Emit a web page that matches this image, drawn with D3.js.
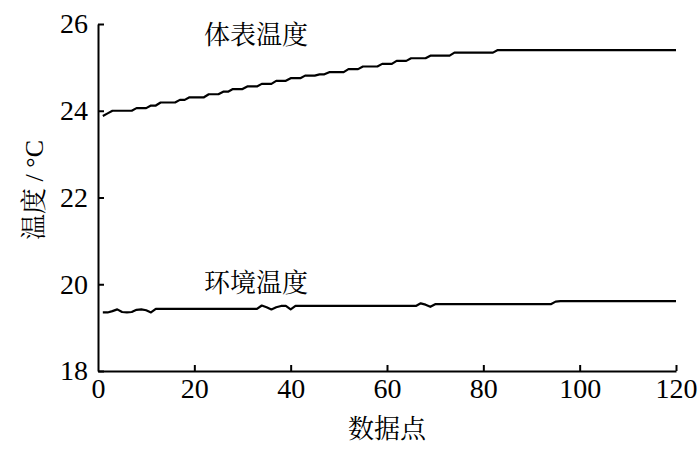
<!DOCTYPE html>
<html>
<head>
<meta charset="utf-8">
<script src="https://cdn.jsdelivr.net/npm/d3@7"></script>
</head>
<body style="margin:0">
<script>
// readings, one per data point (x = 1..120)
const bodyTemp = [
  23.88, 23.94, 24.00, 24.00, 24.00, 24.00, 24.00, 24.06, 24.06, 24.06,
  24.12, 24.12, 24.19, 24.19, 24.19, 24.19, 24.25, 24.25, 24.31, 24.31,
  24.31, 24.31, 24.38, 24.38, 24.38, 24.44, 24.44, 24.50, 24.50, 24.50,
  24.56, 24.56, 24.56, 24.62, 24.62, 24.62, 24.69, 24.69, 24.69, 24.75,
  24.75, 24.75, 24.81, 24.81, 24.81, 24.84, 24.84, 24.89, 24.89, 24.89,
  24.89, 24.96, 24.96, 24.96, 25.02, 25.02, 25.02, 25.02, 25.08, 25.08,
  25.08, 25.15, 25.15, 25.15, 25.21, 25.21, 25.21, 25.21, 25.27, 25.27,
  25.27, 25.27, 25.27, 25.34, 25.34, 25.34, 25.34, 25.34, 25.34, 25.34,
  25.34, 25.34, 25.40, 25.40, 25.40, 25.40, 25.40, 25.40, 25.40, 25.40,
  25.40, 25.40, 25.40, 25.40, 25.40, 25.40, 25.40, 25.40, 25.40, 25.40,
  25.40, 25.40, 25.40, 25.40, 25.40, 25.40, 25.40, 25.40, 25.40, 25.40,
  25.40, 25.40, 25.40, 25.40, 25.40, 25.40, 25.40, 25.40, 25.40, 25.40
];

const ambientTemp = [
  19.35, 19.35, 19.38, 19.42, 19.36, 19.35, 19.36, 19.41, 19.42, 19.40,
  19.35, 19.43, 19.43, 19.43, 19.43, 19.43, 19.43, 19.43, 19.43, 19.43,
  19.43, 19.43, 19.43, 19.43, 19.43, 19.43, 19.43, 19.43, 19.43, 19.43,
  19.43, 19.43, 19.43, 19.51, 19.47, 19.42, 19.47, 19.50, 19.50, 19.42,
  19.50, 19.50, 19.50, 19.50, 19.50, 19.50, 19.50, 19.50, 19.50, 19.50,
  19.50, 19.50, 19.50, 19.50, 19.50, 19.50, 19.50, 19.50, 19.50, 19.50,
  19.50, 19.50, 19.50, 19.50, 19.50, 19.50, 19.56, 19.53, 19.48, 19.54,
  19.54, 19.54, 19.54, 19.54, 19.54, 19.54, 19.54, 19.54, 19.54, 19.54,
  19.54, 19.54, 19.54, 19.54, 19.54, 19.54, 19.54, 19.54, 19.54, 19.54,
  19.54, 19.54, 19.54, 19.54, 19.60, 19.61, 19.61, 19.61, 19.61, 19.61,
  19.61, 19.61, 19.61, 19.61, 19.61, 19.61, 19.61, 19.61, 19.61, 19.61,
  19.61, 19.61, 19.61, 19.61, 19.61, 19.61, 19.61, 19.61, 19.61, 19.61
];

const xTicks = [0, 20, 40, 60, 80, 100, 120];
const yTicks = [18, 20, 22, 24, 26];

const seriesLabels = [
  { name: "体表温度", x: 22, y: 25.55 },
  { name: "环境温度", x: 22, y: 19.83 }
];

const width = 700;
const height = 450;
const marginTop = 24;
const marginRight = 24;
const marginBottom = 79;
const marginLeft = 98;

const fontStack = '"Liberation Serif", "Times New Roman", "Noto Serif CJK SC"';

const x = d3.scaleLinear().domain([0, 120]).range([marginLeft, width - marginRight]);
const y = d3.scaleLinear().domain([18, 26]).range([height - marginBottom, marginTop]);

const svg = d3.select("body").append("svg")
  .attr("width", width)
  .attr("height", height)
  .attr("font-family", fontStack)
  .style("font-family", fontStack)
  .style("display", "block");

// axes: ticks point inward, no frame on top / right
const gx = svg.append("g")
  .attr("transform", `translate(0,${height - marginBottom})`)
  .call(d3.axisBottom(x).tickValues(xTicks).tickSizeInner(-6).tickSizeOuter(0).tickPadding(7));

const gy = svg.append("g")
  .attr("transform", `translate(${marginLeft},0)`)
  .call(d3.axisLeft(y).tickValues(yTicks).tickSizeInner(-6).tickSizeOuter(0).tickPadding(10));

[gx, gy].forEach(g => {
  g.attr("font-family", fontStack).attr("font-size", 28);
  g.select(".domain").attr("stroke", "#000").attr("stroke-width", 2);
  g.selectAll(".tick line").attr("stroke", "#000").attr("stroke-width", 2);
  g.selectAll(".tick text")
    .attr("fill", "#000")
    .style("font-family", '"Liberation Serif"')
    .style("font-size", "28px");
});
gx.selectAll(".tick").filter(d => d === 0).select("line").remove();

const line = d3.line()
  .x((d, i) => x(i + 1))
  .y(d => y(d));

svg.append("g")
  .attr("fill", "none")
  .attr("stroke", "#000")
  .attr("stroke-width", 2.2)
  .attr("stroke-linejoin", "round")
  .selectAll("path")
  .data([bodyTemp, ambientTemp])
  .join("path")
  .attr("d", line);

// series names
svg.append("g")
  .selectAll("text")
  .data(seriesLabels)
  .join("text")
  .attr("x", d => x(d.x))
  .attr("y", d => y(d.y))
  .attr("font-size", 26)
  .attr("fill", "#000")
  .text(d => d.name);

// axis titles
svg.append("text")
  .attr("x", (marginLeft + width - marginRight) / 2)
  .attr("y", height - 12)
  .attr("text-anchor", "middle")
  .attr("font-size", 26)
  .attr("fill", "#000")
  .text("数据点");

svg.append("text")
  .attr("transform", "translate(43,190) rotate(-90)")
  .attr("text-anchor", "middle")
  .attr("font-size", 26)
  .attr("fill", "#000")
  .text("温度 / °C");
</script>
</body>
</html>
